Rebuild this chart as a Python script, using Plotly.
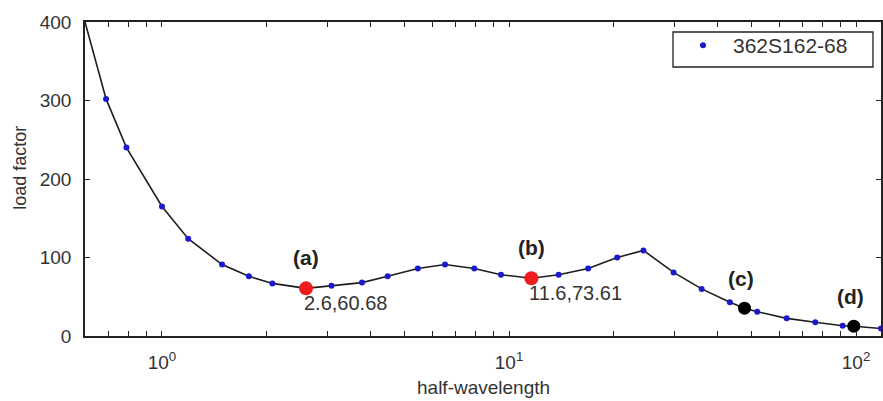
import numpy as np
import plotly.graph_objects as go

# ---- data ----
start_x = [0.6]
start_y = [400]

blue_x = [0.69, 0.79, 1.0, 1.19, 1.49, 1.78, 2.08, 3.08, 3.77, 4.47, 5.46, 6.54, 7.94, 9.48,
          13.9, 16.9, 20.5, 24.4, 29.8, 35.9, 43.3, 51.9, 63.1, 76.3, 91.5, 118]
blue_y = [302, 240, 165, 124, 91, 76, 67, 64, 68, 76, 86, 91, 86, 78,
          78, 86, 100, 109, 81, 60, 43, 31, 22.5, 17.5, 13, 9.5]

red_x = [2.6, 11.6]
red_y = [60.68, 73.61]
red_labels = ["(a)", "(b)"]
red_values = ["2.6,60.68", "11.6,73.61"]

black_x = [47.7, 98.5]
black_y = [35.5, 12.5]
black_labels = ["(c)", "(d)"]

series_name = "362S162-68"

xtick_major = [1, 10, 100]
xtick_text = ["10<sup>0</sup>", "10<sup>1</sup>", "10<sup>2</sup>"]
xtick_minor = [0.6, 0.7, 0.8, 0.9, 2, 3, 4, 5, 6, 7, 8, 9,
               20, 30, 40, 50, 60, 70, 80, 90]
ytick_vals = [0, 100, 200, 300, 400]

# ---- build curve through all points ----
all_x = start_x + blue_x + red_x + black_x
all_y = start_y + blue_y + red_y + black_y
order = np.argsort(all_x)
line_x = [all_x[i] for i in order]
line_y = [all_y[i] for i in order]

FONT = "Liberation Sans, Arial, sans-serif"
TXT = "#333333"

fig = go.Figure()
fig.add_trace(go.Scatter(x=line_x, y=line_y, mode="lines",
                         line=dict(color="#1e1e1e", width=1.6), showlegend=False,
                         hoverinfo="skip"))
fig.add_trace(go.Scatter(x=blue_x, y=blue_y, mode="markers", name=series_name,
                         marker=dict(color="#1a1acc", size=6)))
fig.add_trace(go.Scatter(x=red_x, y=red_y, mode="markers", showlegend=False,
                         marker=dict(color="#ee1c1c", size=14)))
fig.add_trace(go.Scatter(x=black_x, y=black_y, mode="markers", showlegend=False,
                         marker=dict(color="#000000", size=13)))

annotations = []
for x, y, lab, val in zip(red_x, red_y, red_labels, red_values):
    annotations.append(dict(x=np.log10(x), y=y, xref="x", yref="y", text="<b>%s</b>" % lab,
                            showarrow=False, yshift=31, font=dict(size=21, color="#222", family=FONT)))
    annotations.append(dict(x=np.log10(x), y=y, xref="x", yref="y", text=val, xanchor="left",
                            showarrow=False, yshift=-15, xshift=-4,
                            font=dict(size=20, color=TXT, family=FONT)))
for x, y, lab in zip(black_x, black_y, black_labels):
    annotations.append(dict(x=np.log10(x), y=y, xref="x", yref="y", text="<b>%s</b>" % lab,
                            showarrow=False, yshift=30, xshift=-3,
                            font=dict(size=21, color="#222", family=FONT)))
annotations.append(dict(x=-0.082, y=0.535, xref="paper", yref="paper", text="load factor",
                        textangle=-90, xanchor="center", yanchor="middle", showarrow=False,
                        font=dict(size=18, color=TXT, family=FONT)))
annotations.append(dict(x=0.5, y=-0.165, xref="paper", yref="paper", text="half-wavelength",
                        xanchor="center", yanchor="middle", showarrow=False,
                        font=dict(size=19, color=TXT, family=FONT)))

# legend frame
shapes = [dict(type="rect", xref="paper", yref="paper",
               x0=0.7387, x1=0.9899, y0=0.8567, y1=0.9682,
               line=dict(color="#222", width=1.3), fillcolor="rgba(0,0,0,0)", layer="above")]

fig.update_layout(
    width=883, height=401,
    margin=dict(l=85, r=2, t=22, b=65, autoexpand=False),
    paper_bgcolor="white", plot_bgcolor="white",
    font=dict(family=FONT, color=TXT, size=19),
    annotations=annotations,
    shapes=shapes,
    legend=dict(x=0.7387, y=0.990, xanchor="left", yanchor="top",
                borderwidth=0, bgcolor="rgba(255,255,255,0)",
                font=dict(size=21, color=TXT, family=FONT), itemwidth=50),
    xaxis=dict(type="log", range=[np.log10(0.6), np.log10(118)], automargin=False,
               tickmode="array", tickvals=xtick_major, ticktext=xtick_text,
               ticks="inside", ticklen=5, tickcolor="#222", tickwidth=1.2,
               minor=dict(tickmode="array", tickvals=xtick_minor, ticks="inside",
                          ticklen=5, tickcolor="#222", tickwidth=1.2, showgrid=False),
               showline=True, linecolor="#222", linewidth=1.6, mirror="ticks",
               showgrid=False, zeroline=False, ticklabelstandoff=8),
    yaxis=dict(range=[0, 400], tickvals=ytick_vals, automargin=False,
               ticks="inside", ticklen=5, tickcolor="#222", tickwidth=1.2,
               showline=True, linecolor="#222", linewidth=1.6, mirror="ticks",
               showgrid=False, zeroline=False, ticklabelstandoff=8),
)

fig.write_html("out.html", config={"displayModeBar": False},
               post_script="document.body.style.margin='0';")
